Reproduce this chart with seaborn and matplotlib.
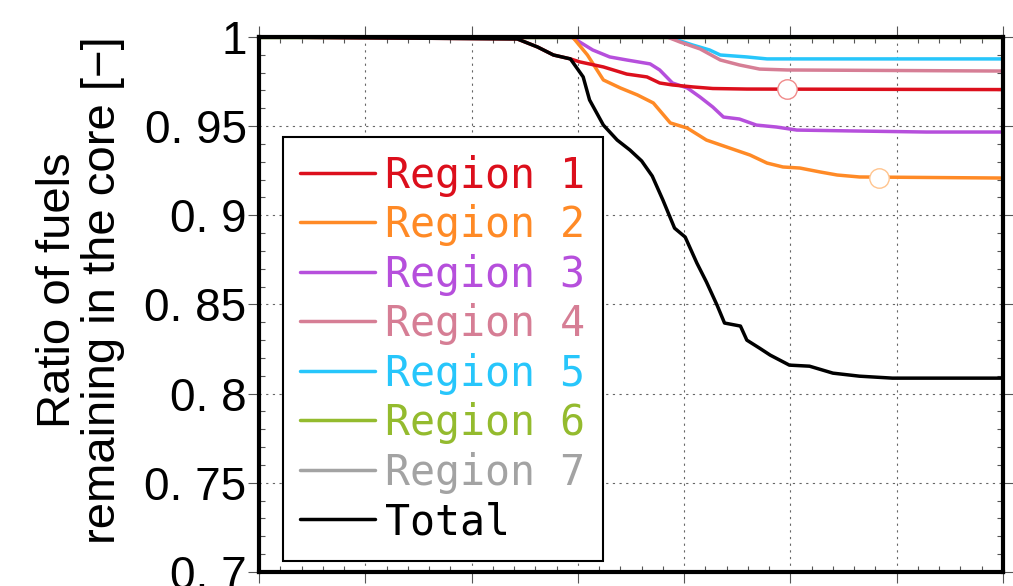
import seaborn as sns
import pandas as pd, numpy as np
import matplotlib.pyplot as plt
from matplotlib.ticker import AutoMinorLocator, FixedLocator, FixedFormatter

# data (x in axis units 0..7)
r1_x = [0, 2.43, 2.62, 2.77, 2.93, 3.02, 3.24, 3.46, 3.65, 3.77, 3.89, 4.08, 4.27, 4.59, 7.0]
r1_y = [1.0, 0.9989, 0.9944, 0.9899, 0.9877, 0.986, 0.9832, 0.9792, 0.9776, 0.9742, 0.9731, 0.972, 0.9711, 0.9708, 0.9705]
r2_x = [0, 2.95, 3.09, 3.24, 3.40, 3.56, 3.71, 3.87, 4.03, 4.21, 4.40, 4.62, 4.78, 4.93, 5.09, 5.28, 5.44, 5.65, 7.0]
r2_y = [1.0, 1.0, 0.9899, 0.9759, 0.9714, 0.9675, 0.963, 0.9518, 0.9489, 0.9422, 0.9383, 0.9338, 0.9293, 0.9271, 0.9265, 0.9243, 0.9226, 0.9215, 0.9209]
r3_x = [0, 2.94, 3.14, 3.30, 3.46, 3.68, 3.77, 3.89, 4.03, 4.15, 4.27, 4.37, 4.52, 4.68, 4.87, 5.06, 5.59, 6.28, 7.0]
r3_y = [1.0, 1.0, 0.9927, 0.9888, 0.9871, 0.9849, 0.9815, 0.9742, 0.9714, 0.9663, 0.9607, 0.9551, 0.954, 0.9506, 0.9495, 0.9478, 0.9473, 0.9467, 0.9467]
r4_x = [0, 3.84, 3.96, 4.15, 4.34, 4.52, 4.71, 4.97, 7.0]
r4_y = [1.0, 1.0, 0.9972, 0.9933, 0.9871, 0.9843, 0.982, 0.9815, 0.9809]
r5_x = [0, 3.85, 4.08, 4.24, 4.34, 4.59, 4.78, 7.0]
r5_y = [1.0, 1.0, 0.9955, 0.9927, 0.9899, 0.9888, 0.9877, 0.9877]
r6_x = [0, 7.0]
r6_y = [1.0, 1.0]
r7_x = [0, 7.0]
r7_y = [1.0, 1.0]
tot_x = [0, 2.43, 2.62, 2.77, 2.93, 3.05, 3.11, 3.24, 3.37, 3.49, 3.60, 3.70, 3.80, 3.91, 4.01, 4.12, 4.21,
         4.31, 4.38, 4.53, 4.59, 4.71, 4.81, 4.99, 5.18, 5.40, 5.65, 5.96, 7.0]
tot_y = [1.0, 0.9989, 0.9944, 0.9899, 0.9877, 0.9776, 0.9647, 0.9506, 0.9422, 0.9366, 0.9305, 0.9220, 0.9086,
         0.8928, 0.8878, 0.8732, 0.8626, 0.8496, 0.8396, 0.8379, 0.83, 0.8255, 0.8216, 0.816, 0.8154,
         0.8115, 0.8098, 0.8087, 0.8087]

names = ["Region 1", "Region 2", "Region 3", "Region 4", "Region 5", "Region 6", "Region 7", "Total"]
colors = ["#dc0f1c", "#ff8a26", "#b64fdc", "#d67e95", "#27c6fb", "#94bb2e", "#a3a3a3", "#000000"]
xs = [r1_x, r2_x, r3_x, r4_x, r5_x, r6_x, r7_x, tot_x]
ys = [r1_y, r2_y, r3_y, r4_y, r5_y, r6_y, r7_y, tot_y]

# hollow circle markers on region 1 and region 2
mark_x = [4.97, 5.83]
mark_y = [0.9708, 0.9209]
mark_edge = ["#f08a8a", "#ffc48e"]

yticks = [0.7, 0.75, 0.8, 0.85, 0.9, 0.95, 1.0]
ytick_labels = ["0. 7", "0. 75", "0. 8", "0. 85", "0. 9", "0. 95", "1"]

sns.set_style("ticks")
plt.rcParams["font.family"] = ["Liberation Sans", "DejaVu Sans"]

fig, ax = plt.subplots(figsize=(10.13, 5.86), dpi=100)
fig.subplots_adjust(left=0.2557, right=0.9901, top=0.9369, bottom=0.0239)

# draw order: regions 6,7 at the bottom, then others, total on top
handles = {}
for i in [5, 6, 4, 3, 2, 1, 0, 7]:
    sns.lineplot(x=xs[i], y=ys[i], color=colors[i], linewidth=2.5, ax=ax, sort=False,
                 label=names[i], zorder=2 + (1 if i == 7 else 0))
for h in ax.get_lines():
    handles[h.get_label()] = h

for mx, my, me in zip(mark_x, mark_y, mark_edge):
    ax.plot([mx], [my], marker="o", markersize=14, markerfacecolor="white",
            markeredgecolor=me, markeredgewidth=1.0, linestyle="none", zorder=4)

ax.set_xlim(0, 7)
ax.set_ylim(0.7, 1.0)
ax.xaxis.set_major_locator(FixedLocator(range(8)))
ax.xaxis.set_minor_locator(AutoMinorLocator(5))
ax.yaxis.set_major_locator(FixedLocator(yticks))
ax.yaxis.set_major_formatter(FixedFormatter(ytick_labels))
ax.yaxis.set_minor_locator(AutoMinorLocator(5))

ax.tick_params(which="major", direction="out", length=8, width=0.8, color="#555555",
               top=True, right=True, labelbottom=False, labelsize=33, labelcolor="black", pad=1)
ax.tick_params(which="minor", direction="in", length=4, width=0.8, color="#555555",
               top=True, right=True)
ax.grid(True, which="major", color="#666666", linestyle=(0, (2, 4)), linewidth=0.8)

for s in ax.spines.values():
    s.set_linewidth(3)
    s.set_color("black")
    s.set_zorder(5)

ax.set_xlabel("")
ax.set_ylabel("Ratio of fuels\nremaining in the core [\u2212]", fontsize=34, linespacing=1.03,
              color="black")
ax.yaxis.set_label_coords(-0.18, 0.527)

leg = ax.legend([handles[n] for n in names], names, loc="upper left", bbox_to_anchor=(0.032, 0.813),
                borderaxespad=0, fancybox=False, framealpha=1, edgecolor="black",
                prop={"family": "DejaVu Sans Mono", "size": 30}, labelcolor="linecolor",
                handlelength=1.8, handletextpad=0.24, labelspacing=0.18, borderpad=0.42)
leg.get_frame().set_linewidth(1.5)
leg.set_zorder(6)

fig.savefig("out.png", dpi=100)
